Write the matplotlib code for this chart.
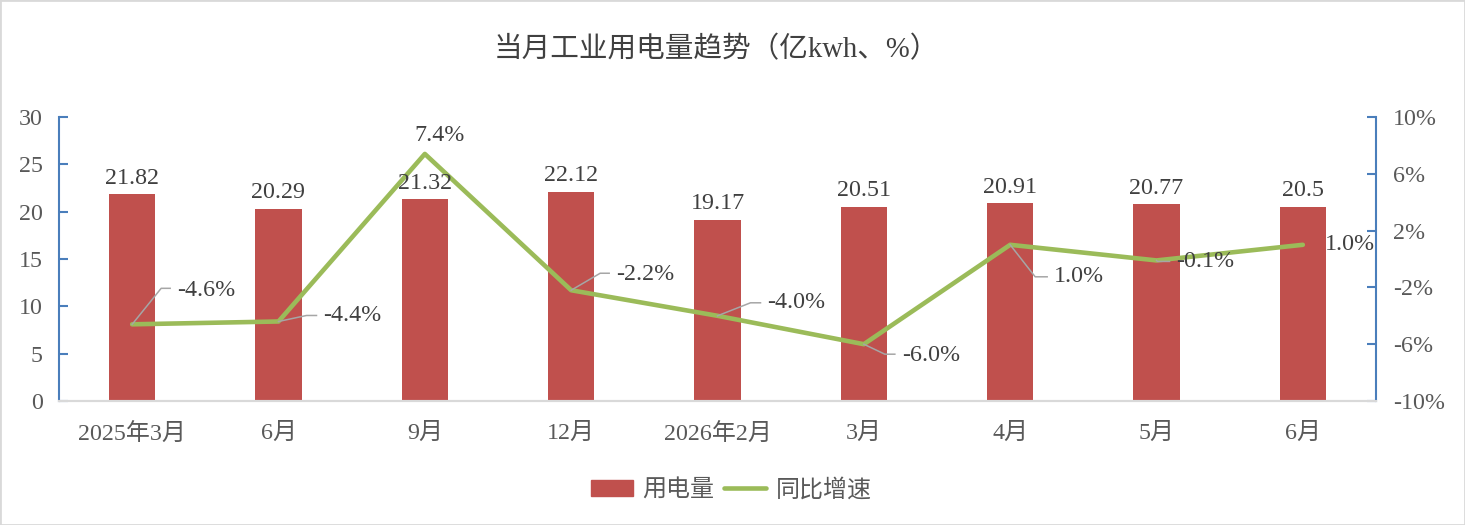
import matplotlib
matplotlib.use("Agg")
import matplotlib.pyplot as plt
import matplotlib.transforms as mtransforms
from matplotlib.lines import Line2D
from matplotlib.patches import Rectangle, Patch
import numpy as np

plt.rcParams['font.family'] = ['Liberation Serif', 'Noto Sans CJK SC', 'DejaVu Sans']

categories = ['2025年3月', '6月', '9月', '12月', '2026年2月', '3月', '4月', '5月', '6月']
usage = [21.82, 20.29, 21.32, 22.12, 19.17, 20.51, 20.91, 20.77, 20.5]
growth = [-4.6, -4.4, 7.4, -2.2, -4.0, -6.0, 1.0, -0.1, 1.0]
left_ticks = [0, 5, 10, 15, 20, 25, 30]
right_ticks = [-10, -6, -2, 2, 6, 10]
title = '当月工业用电量趋势（亿kwh、%）'
legend_labels = ['用电量', '同比增速']

# label placement (pixel offsets): (knee, end, text, ha) ; None = no leader
label_layout = [
    ((29, 36), (38, 36), (45, 34), 'left'),
    ((28, 6), (38, 6), (45, 6), 'left'),
    (None, None, (15, 18), 'center'),
    ((29, 17), (38, 17), (45, 16), 'left'),
    ((33, 13), (43, 13), (50, 13), 'left'),
    ((21, -10), (31, -10), (38, -11), 'left'),
    ((25, -32), (37, -32), (44, -32), 'left'),
    ((1, -1), (13, -1), (20, -1), 'left'),
    (None, None, (22, 0), 'left'),
]

W, H = 1465, 525
fig = plt.figure(figsize=(W / 100, H / 100), dpi=100)
fig.patch.set_facecolor('white')

ax = fig.add_axes([59 / W, 1 - 401 / H, 1317 / W, 284 / H])
ax2 = ax.twinx()

bar_color = '#C0504D'
line_color = '#9BBB59'
spine_blue = '#4A7EBB'
text_dark = '#404040'
tick_color = '#595959'
FS = 17.3

x = np.arange(len(categories))
ax.bar(x, usage, width=0.315, color=bar_color, zorder=2)
ax.set_xlim(-0.5, len(categories) - 0.5)
ax.set_ylim(0, 30)
ax.set_yticks(left_ticks)
ax.set_yticklabels([str(t) for t in left_ticks])
ax.set_xticks(x)
ax.set_xticklabels(categories)

ax2.plot(x, growth, color=line_color, lw=3.3, solid_joinstyle='round', solid_capstyle='round', zorder=3)
ax2.set_ylim(-10, 10)
ax2.set_yticks(right_ticks)
ax2.set_yticklabels([f'{t}%' for t in right_ticks])

for a in (ax, ax2):
    a.spines['top'].set_visible(False)
    a.spines['left'].set_color(spine_blue)
    a.spines['right'].set_color(spine_blue)
    a.spines['left'].set_linewidth(1.5)
    a.spines['right'].set_linewidth(1.5)
    a.spines['bottom'].set_color('#D9D9D9')
    a.spines['bottom'].set_linewidth(1.5)
ax2.spines['left'].set_visible(False)
ax.spines['right'].set_visible(False)

ax.tick_params(axis='y', direction='in', length=6.5, width=1.5, color=spine_blue,
               labelsize=FS, labelcolor=tick_color, pad=11.5)
ax2.tick_params(axis='y', direction='in', length=6.5, width=1.5, color=spine_blue,
                labelsize=FS, labelcolor=tick_color, pad=12)
ax.tick_params(axis='x', length=0, labelsize=FS, labelcolor=tick_color, pad=15.5)

# bar value labels
for xi, v in zip(x, usage):
    ax2.annotate(f'{v:g}', xy=(xi, v), xycoords=ax.transData, xytext=(0, 16),
                 textcoords='offset pixels', ha='center', va='center',
                 fontsize=FS, color=text_dark, zorder=5)

# growth labels with leader lines
for xi, g, (knee, end, toff, ha) in zip(x, growth, label_layout):
    ax2.annotate(f'{g:.1f}%', xy=(xi, g), xytext=toff, textcoords='offset pixels',
                 ha=ha, va='center', fontsize=FS, color=text_dark, zorder=5)
    if knee is not None:
        tr = mtransforms.IdentityTransform() + mtransforms.ScaledTranslation(xi, g, ax2.transData)
        ln = Line2D([0, knee[0], end[0]], [0, knee[1], end[1]], transform=tr,
                    color='#A6A6A6', lw=1.1, zorder=4)
        fig.add_artist(ln)

fig.text(716 / W, 1 - 50 / H, title, ha='center', va='center', fontsize=20.6, color=text_dark)

handles = [Patch(facecolor=bar_color, edgecolor=bar_color),
           Line2D([0], [0], color=line_color, lw=3.3, solid_capstyle='round')]
fig.legend(handles, legend_labels, loc='center', bbox_to_anchor=(731 / W, 1 - 490 / H),
           ncol=2, frameon=False, fontsize=FS, handlelength=1.75, handleheight=0.7,
           handletextpad=0.4, columnspacing=0.4, labelcolor=tick_color)

fig.patches.append(Rectangle((0, 0), 1, 1, transform=fig.transFigure, fill=False,
                             edgecolor='#D9D9D9', lw=2))

fig.savefig('out.png', dpi=100, facecolor='white')
